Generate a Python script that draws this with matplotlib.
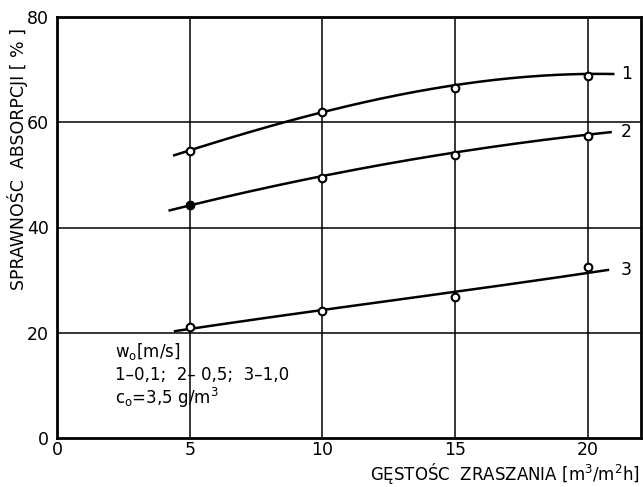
import numpy as np
import matplotlib
matplotlib.use("Agg")
import matplotlib.pyplot as plt

plt.rcParams['font.family'] = ['DejaVu Sans']

# Measured points (spray density vs absorption efficiency)
x_points = [5, 10, 15, 20]
eff_1 = [54.6, 61.9, 66.6, 68.7]
eff_2 = [44.2, 49.5, 53.7, 57.3]
eff_3 = [21.0, 24.2, 26.8, 32.5]

# Hand-drawn trend lines through the measurements
trend_x_1 = [4.37, 5, 7.5, 8.5, 10, 12.5, 15, 17.5, 20, 21.0]
trend_y_1 = [53.7, 54.7, 58.2, 60.0, 62.0, 64.9, 67.1, 68.4, 69.2, 69.2]
trend_x_2 = [4.2, 5, 7.5, 10, 12.5, 15, 17.5, 20, 20.9]
trend_y_2 = [43.2, 44.2, 47.1, 49.8, 52.2, 54.2, 56.1, 57.7, 58.1]
trend_x_3 = [4.4, 5, 7.5, 10, 12.5, 15, 17.5, 20, 20.8]
trend_y_3 = [20.2, 20.8, 22.6, 24.3, 26.0, 27.8, 29.6, 31.3, 32.0]

curve_names = ["1", "2", "3"]
x_ticks = [0, 5, 10, 15, 20]
y_ticks = [0, 20, 40, 60, 80]

fig = plt.figure(figsize=(6.43, 4.87), dpi=100)
ax = fig.add_axes([57 / 643, 1 - 438 / 487, 584 / 643, 421 / 487])
ax.set_xlim(0, 22)
ax.set_ylim(0, 80)

for v in [5, 10, 15, 20]:
    ax.axvline(v, color='black', lw=1.1, zorder=1)
for v in [20, 40, 60]:
    ax.axhline(v, color='black', lw=1.1, zorder=1)

for tx, ty in [(trend_x_1, trend_y_1), (trend_x_2, trend_y_2), (trend_x_3, trend_y_3)]:
    coef = np.polyfit(tx, ty, 3)
    xs = np.linspace(tx[0], tx[-1], 200)
    ax.plot(xs, np.polyval(coef, xs), color='black', lw=1.8, zorder=2,
            solid_capstyle='butt')

for ys in [eff_1, eff_2, eff_3]:
    ax.plot(x_points, ys, 'o', ms=5.5, mfc='white', mec='black', mew=1.5, zorder=3)
ax.plot(x_points[0], eff_2[0], 'o', ms=5.5, mfc='black', mec='black', zorder=4)

for name, tx, ty in [(curve_names[0], trend_x_1, trend_y_1),
                     (curve_names[1], trend_x_2, trend_y_2),
                     (curve_names[2], trend_x_3, trend_y_3)]:
    ax.text(21.25, ty[-1], name, fontsize=12.5, va='center', ha='left')

for s in ax.spines.values():
    s.set_linewidth(2.0)

ax.set_xticks(x_ticks)
ax.set_yticks(y_ticks)
ax.tick_params(length=0, labelsize=12.5)
ax.tick_params(axis='x', pad=2)
ax.tick_params(axis='y', pad=6)
ax.set_xticklabels([str(v) for v in x_ticks])
ax.set_yticklabels([str(v) for v in y_ticks])

ax.text(-0.068, 0.663, "SPRAWNOŚC  ABSORPCJI [ % ]", transform=ax.transAxes,
        rotation=90, ha='center', va='center', fontsize=12.5)
fig.text(640 / 643, 1 - 474 / 487, "GĘSTOŚC  ZRASZANIA [m$^3$/m$^2$h]",
         ha='right', va='center', fontsize=12)

ax.text(2.2, 16.5, "w$_\\mathregular{o}$[m/s]", fontsize=12, ha='left', va='center')
ax.text(2.2, 12.0, "1–0,1;  2– 0,5;  3–1,0", fontsize=12, ha='left', va='center')
ax.text(2.2, 7.6, "c$_\\mathregular{o}$=3,5 g/m$^3$", fontsize=12, ha='left', va='center')

fig.savefig("out.png", dpi=100)
